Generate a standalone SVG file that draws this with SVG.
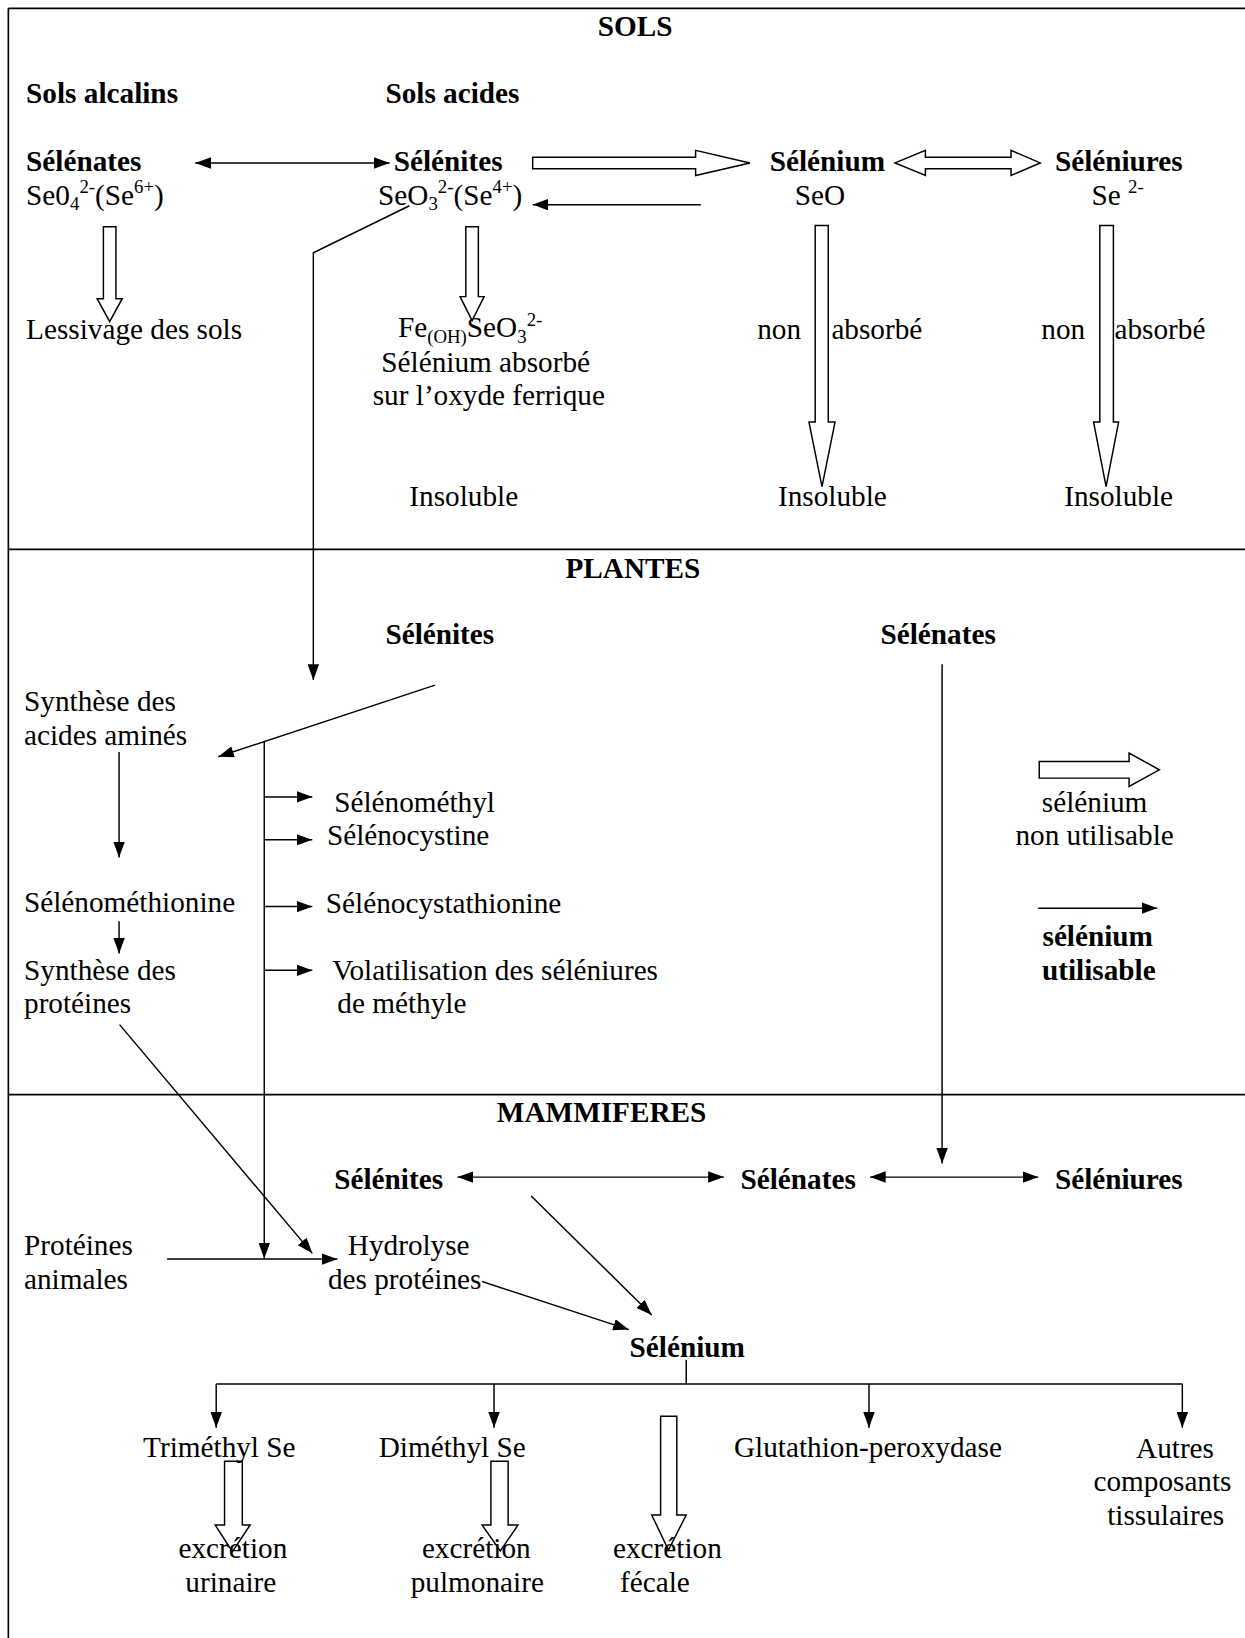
<svg xmlns="http://www.w3.org/2000/svg" width="1245" height="1638" viewBox="0 0 1245 1638">
<defs>
<style>
.t{font-family:"Liberation Serif","Times New Roman",serif;font-size:28px;fill:#000}
.b{font-weight:bold}
.m{text-anchor:middle}
.e{text-anchor:end}
.s{font-size:18px}
.ln{stroke:#000;stroke-width:1.4;fill:none}
.fr{stroke:#000;stroke-width:1.6;fill:none}
.ha{fill:#fff;stroke:#000;stroke-width:1.4;stroke-linejoin:miter}
.ar{marker-end:url(#ah)}
.dbl{marker-start:url(#ah);marker-end:url(#ah)}
</style>
<marker id="ah" markerUnits="userSpaceOnUse" markerWidth="15" markerHeight="11" refX="15" refY="5.5" orient="auto-start-reverse">
<path d="M0,0 L15,5.5 L0,11 z" fill="#000"/>
</marker>
</defs>
<rect x="0" y="0" width="1245" height="1638" fill="#fff"/>
<g transform="scale(1.04446)">
<g id="frame">
<line class="fr" x1="8" y1="8" x2="1200" y2="8"/>
<line class="fr" x1="8" y1="8" x2="8" y2="1570"/>
<line class="fr" x1="8" y1="526" x2="1200" y2="526"/>
<line class="fr" x1="8" y1="1048" x2="1200" y2="1048"/>
</g>

<g id="connectors">
<line class="ln dbl" x1="187" y1="156" x2="373" y2="156"/>
<polygon class="ha" points="510,150.5 666,150.5 666,144 718,156 666,168 666,161.5 510,161.5"/>
<line class="ln ar" x1="671" y1="196" x2="510" y2="196"/>
<polygon class="ha" points="857,156 886,144 886,150.5 968,150.5 968,144 996,156 968,168 968,161.5 886,161.5 886,168"/>
<polygon class="ha" points="99,217 111,217 111,286 117,286 105,308 93,286 99,286"/>
<polygon class="ha" points="446,217 458,217 458,284 463.5,284 452,307 440.5,284 446,284"/>
<polygon class="ha" points="780.5,216 793,216 793,404 799.5,404 787,466 774.5,404 780.5,404"/>
<polygon class="ha" points="1053,216 1066,216 1066,404 1071,404 1059,466 1047,404 1053,404"/>
<polyline class="ln ar" points="392,197 300,242 300,651"/>
<line class="ln ar" x1="416.5" y1="656" x2="209" y2="724.5"/>
<line class="ln ar" x1="253" y1="710" x2="253" y2="1205"/>
<line class="ln ar" x1="253" y1="763" x2="299" y2="763"/>
<line class="ln ar" x1="253" y1="804" x2="299" y2="804"/>
<line class="ln ar" x1="253" y1="868" x2="299" y2="868"/>
<line class="ln ar" x1="253" y1="929" x2="299" y2="929"/>
<line class="ln ar" x1="114" y1="720" x2="114" y2="821"/>
<line class="ln ar" x1="114" y1="882" x2="114" y2="913"/>
<line class="ln ar" x1="114.5" y1="981" x2="299" y2="1200"/>
<line class="ln ar" x1="160" y1="1205.5" x2="323" y2="1205.5"/>
<line class="ln ar" x1="461.6" y1="1227" x2="602" y2="1273"/>
<line class="ln ar" x1="508.6" y1="1145" x2="624" y2="1259"/>
<line class="ln ar" x1="902" y1="636" x2="902" y2="1114"/>
<line class="ln dbl" x1="438" y1="1127" x2="693" y2="1127"/>
<line class="ln dbl" x1="833" y1="1127" x2="994" y2="1127"/>
<line class="ln" x1="657" y1="1302" x2="657" y2="1325"/>
<line class="ln" x1="207" y1="1325" x2="1132" y2="1325"/>
<line class="ln ar" x1="207" y1="1325" x2="207" y2="1367"/>
<line class="ln ar" x1="473" y1="1325" x2="473" y2="1367"/>
<line class="ln ar" x1="832" y1="1325" x2="832" y2="1367"/>
<line class="ln ar" x1="1132" y1="1325" x2="1132" y2="1367"/>
<polygon class="ha" points="215,1399 232,1399 232,1460 239.5,1460 222.5,1485.5 206,1460 215,1460"/>
<polygon class="ha" points="470,1399 486.5,1399 486.5,1460 496,1460 479,1485 461.5,1460 470,1460"/>
<polygon class="ha" points="632.5,1356 648,1356 648,1450.5 657,1450.5 640,1484 624,1450.5 632.5,1450.5"/>
<polygon class="ha" points="995,729 1081,729 1081,721 1110,737 1081,753 1081,745 995,745"/>
<line class="ln ar" x1="994" y1="869.5" x2="1108" y2="869.5"/>
</g>

<g id="sols">
<text class="t b m" x="608" y="34">SOLS</text>
<text class="t b" x="25" y="99">Sols alcalins</text>
<text class="t b" x="369" y="99">Sols acides</text>
</g>
<g id="selenates-sol">
<text class="t b" x="25" y="164">Sélénates</text>
<text class="t" x="25" y="196">Se0<tspan class="s" dy="5">4</tspan><tspan class="s" dy="-16">2-</tspan><tspan dy="11">(Se</tspan><tspan class="s" dy="-11">6+</tspan><tspan dy="11">)</tspan></text>
</g>
<g id="selenites-sol">
<text class="t b" x="377" y="164">Sélénites</text>
<text class="t" x="362" y="196">SeO<tspan class="s" dy="5">3</tspan><tspan class="s" dy="-16">2-</tspan><tspan dy="11">(Se</tspan><tspan class="s" dy="-11">4+</tspan><tspan dy="11">)</tspan></text>
</g>
<g id="selenium-sol">
<text class="t b" x="737" y="164">Sélénium</text>
<text class="t m" x="785" y="196">SeO</text>
</g>
<g id="seleniures-sol">
<text class="t b" x="1010" y="164">Séléniures</text>
<text class="t" x="1045" y="196">Se <tspan class="s" dy="-11">2-</tspan></text>
</g>
<g id="lessivage">
<text class="t" x="25" y="325">Lessivage des sols</text>
</g>
<g id="feoh">
<text class="t" x="381" y="323">Fe<tspan class="s" dy="5">(OH)</tspan><tspan dy="-5">SeO</tspan><tspan class="s" dy="5">3</tspan><tspan class="s" dy="-16">2-</tspan></text>
<text class="t m" x="465" y="356">Sélénium absorbé</text>
<text class="t m" x="468" y="388">sur l’oxyde ferrique</text>
<text class="t m" x="444" y="484">Insoluble</text>
</g>
<g id="seo-insoluble">
<text class="t e" x="767" y="325">non</text>
<text class="t" x="796" y="325">absorbé</text>
<text class="t m" x="797" y="484">Insoluble</text>
</g>
<g id="se2-insoluble">
<text class="t" x="997" y="325">non</text>
<text class="t" x="1067" y="325">absorbé</text>
<text class="t m" x="1071" y="484">Insoluble</text>
</g>

<g id="plantes">
<text class="t b m" x="606" y="553">PLANTES</text>
</g>
<g id="selenites-pl"><text class="t b" x="369" y="617">Sélénites</text></g>
<g id="selenates-pl"><text class="t b" x="843" y="617">Sélénates</text></g>
<g id="synth-aa">
<text class="t" x="23" y="681">Synthèse des</text>
<text class="t" x="23" y="713">acides aminés</text>
</g>
<g id="selenomethyl"><text class="t" x="320" y="777">Sélénométhyl</text></g>
<g id="selenocystine"><text class="t" x="313" y="809">Sélénocystine</text></g>
<g id="selenocystathionine"><text class="t" x="312" y="874">Sélénocystathionine</text></g>
<g id="volatilisation">
<text class="t" x="318" y="938">Volatilisation des séléniures</text>
<text class="t" x="323" y="970">de méthyle</text>
</g>
<g id="selenomethionine"><text class="t" x="23" y="873">Sélénométhionine</text></g>
<g id="synth-prot">
<text class="t" x="23" y="938">Synthèse des</text>
<text class="t" x="23" y="970">protéines</text>
</g>
<g id="legend-non">
<text class="t m" x="1048" y="777">sélénium</text>
<text class="t m" x="1048" y="809">non utilisable</text>
</g>
<g id="legend-util">
<text class="t b m" x="1051" y="906">sélénium</text>
<text class="t b m" x="1052" y="938">utilisable</text>
</g>

<g id="mammiferes">
<text class="t b m" x="576" y="1074">MAMMIFERES</text>
</g>
<g id="selenites-m"><text class="t b" x="320" y="1138">Sélénites</text></g>
<g id="selenates-m"><text class="t b" x="709" y="1138">Sélénates</text></g>
<g id="seleniures-m"><text class="t b" x="1010" y="1138">Séléniures</text></g>
<g id="prot-anim">
<text class="t" x="23" y="1202">Protéines</text>
<text class="t" x="23" y="1234">animales</text>
</g>
<g id="hydrolyse">
<text class="t" x="333" y="1202">Hydrolyse</text>
<text class="t" x="314" y="1234">des protéines</text>
</g>
<g id="selenium-m"><text class="t b m" x="658" y="1299">Sélénium</text></g>
<g id="trimethyl"><text class="t m" x="210" y="1395">Triméthyl Se</text></g>
<g id="dimethyl"><text class="t m" x="433" y="1395">Diméthyl Se</text></g>
<g id="glutathion"><text class="t m" x="831" y="1395">Glutathion-peroxydase</text></g>
<g id="autres">
<text class="t m" x="1125" y="1396">Autres</text>
<text class="t m" x="1113" y="1428">composants</text>
<text class="t m" x="1116" y="1460">tissulaires</text>
</g>
<g id="excr-urin">
<text class="t m" x="223" y="1492">excrétion</text>
<text class="t m" x="221" y="1524">urinaire</text>
</g>
<g id="excr-pulm">
<text class="t m" x="456" y="1492">excrétion</text>
<text class="t m" x="457" y="1524">pulmonaire</text>
</g>
<g id="excr-fec">
<text class="t m" x="639" y="1492">excrétion</text>
<text class="t m" x="627" y="1524">fécale</text>
</g>
</g>
</svg>
